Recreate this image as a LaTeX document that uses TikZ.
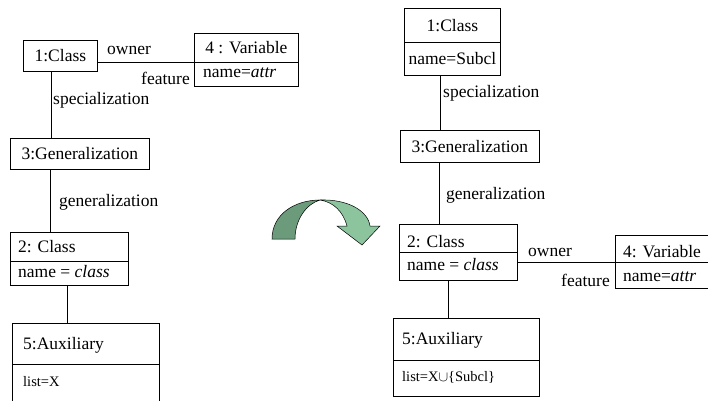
\documentclass[tikz,border=0pt]{standalone}
\usepackage{fontspec}
\setmainfont{Liberation Serif}
\begin{document}
\begin{tikzpicture}[x=1pt,y=-1pt,
  box/.style={draw, line width=0.8pt, inner sep=0pt, anchor=north west},
  txt/.style={inner sep=0pt, font=\fontsize{17.5}{20}\selectfont},
  small/.style={inner sep=0pt, font=\fontsize{14.5}{17}\selectfont},
  link/.style={line width=0.8pt}]
\useasboundingbox (0,0) rectangle (708,400);
% ---------- left diagram ----------
\node[box, minimum width=74pt, minimum height=31pt] (lc1) at (23,40) {};
\node[txt] (lc1t) at (lc1.center) {1:Class};
\node[box, minimum width=104pt, minimum height=29pt] (lv4a) at (194,33) {};
\node[box, minimum width=104pt, minimum height=24pt] (lv4b) at (194,62) {};
\node[txt] (lv4at) at (lv4a.center) {4 : Variable};
\node[txt, anchor=west] (lv4bt) at (203,73) {name=\textit{attr}};
\draw[link] (lv4a.south west) -- (lc1.east |- lv4a.south west);
\node[txt] (lown) at (129,50) {owner};
\node[txt, anchor=east] (lfeat) at (190,78) {feature};
\node[box, minimum width=139pt, minimum height=31pt] (lg3) at (10,138) {};
\node[txt] (lg3t) at (lg3.center) {3:Generalization};
\coordinate (ls1) at ([xshift=-9pt]lc1.south);
\draw[link] (ls1) -- (ls1 |- lg3.north);
\node[txt, anchor=west] (lspec) at (53,100) {specialization};
\node[box, minimum width=118pt, minimum height=29pt] (lc2a) at (10,232) {};
\node[box, minimum width=118pt, minimum height=24pt] (lc2b) at (10,261) {};
\node[txt, anchor=west] (lc2at) at (18,247) {2: Class};
\node[txt, anchor=west] (lc2bt) at (18,272) {name = \textit{class}};
\coordinate (ls2) at ([xshift=-29.5pt]lg3.south);
\draw[link] (ls2) -- (ls2 |- lc2a.north);
\node[txt, anchor=west] (lgen) at (59,202) {generalization};
\node[box, minimum width=147pt, minimum height=41pt] (la5a) at (12,323) {};
\node[box, minimum width=147pt, minimum height=46pt] (la5b) at (12,364) {};
\node[txt, anchor=west] (la5at) at (23,345) {5:Auxiliary};
\node[small, anchor=west] (la5bt) at (23,382) {list=X};
\coordinate (ls3) at ([xshift=-2pt]lc2b.south);
\draw[link] (ls3) -- (ls3 |- la5a.north);
% ---------- arrow ----------
\draw[line width=0.5pt, fill={rgb,255:red,107;green,155;blue,123}]
  (272,239) .. controls (272,214) and (295,200) .. (320,200)
  .. controls (306,204) and (295,220) .. (295,239) -- cycle;
\draw[line width=0.5pt, fill={rgb,255:red,140;green,196;blue,158}]
  (320,200) .. controls (348,199) and (368,211) .. (370,226)
  -- (380,226) -- (362,245) -- (337,226) -- (347,226)
  .. controls (343,211) and (333,202) .. (320,200) -- cycle;
% ---------- right diagram ----------
\node[box, minimum width=96pt, minimum height=34pt] (rc1a) at (404,8) {};
\node[box, minimum width=96pt, minimum height=33pt] (rc1b) at (404,42) {};
\node[txt] (rc1at) at (rc1a.center) {1:Class};
\node[txt] (rc1bt) at (rc1b.center) {name=Subcl};
\node[box, minimum width=139pt, minimum height=32pt] (rg3) at (400,130) {};
\node[txt] (rg3t) at (rg3.center) {3:Generalization};
\coordinate (rs1) at ([xshift=-12pt]rc1b.south);
\draw[link] (rs1) -- (rs1 |- rg3.north);
\node[txt, anchor=west] (rspec) at (443,93) {specialization};
\node[box, minimum width=118pt, minimum height=28pt] (rc2a) at (399,224) {};
\node[box, minimum width=118pt, minimum height=28pt] (rc2b) at (399,252) {};
\node[txt, anchor=west] (rc2at) at (407,242) {2: Class};
\node[txt, anchor=west] (rc2bt) at (407,265) {name = \textit{class}};
\coordinate (rs2) at ([xshift=-30.5pt]rg3.south);
\draw[link] (rs2) -- (rs2 |- rc2a.north);
\node[txt, anchor=west] (rgen) at (446,195) {generalization};
\node[box, minimum width=100pt, minimum height=27pt] (rv4a) at (615,235) {};
\node[box, minimum width=100pt, minimum height=26pt] (rv4b) at (615,262) {};
\node[txt, anchor=west] (rv4at) at (623,252) {4: Variable};
\node[txt, anchor=west] (rv4bt) at (623,277) {name=\textit{attr}};
\draw[link] (rv4a.south west) -- (rc2b.east |- rv4a.south west);
\node[txt] (rown) at (550,252) {owner};
\node[txt, anchor=east] (rfeat) at (610,280) {feature};
\node[box, minimum width=146pt, minimum height=42pt] (ra5a) at (393,318) {};
\node[box, minimum width=146pt, minimum height=36pt] (ra5b) at (393,360) {};
\node[txt, anchor=west] (ra5at) at (402,340) {5:Auxiliary};
\node[small, anchor=west] (ra5bt) at (402,377) {list=X$\cup$\{Subcl\}};
\coordinate (rs3) at ([xshift=-10pt]rc2b.south);
\draw[link] (rs3) -- (rs3 |- ra5a.north);
\end{tikzpicture}
\end{document}
